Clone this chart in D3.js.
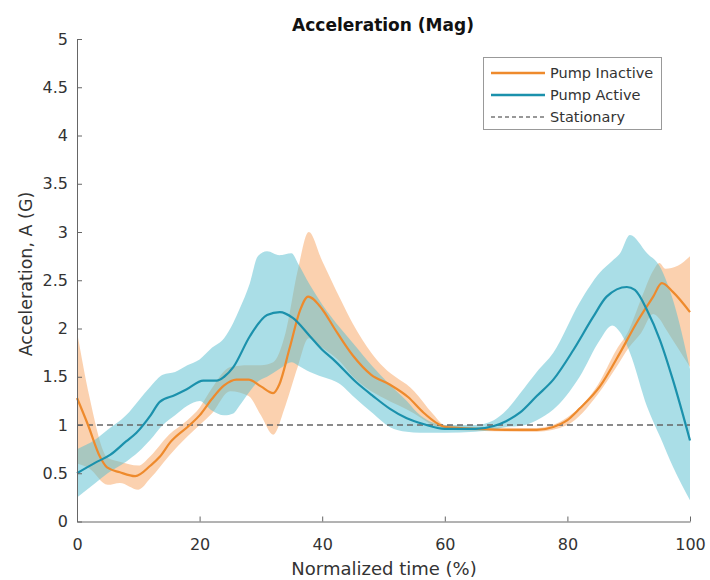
<!DOCTYPE html>
<html>
<head>
<meta charset="utf-8">
<script src="https://cdn.jsdelivr.net/npm/d3@7"></script>
<style>
  html, body { margin: 0; padding: 0; background: #fff; }
  svg { display: block; font-family: "DejaVu Sans", "Liberation Sans", Arial, sans-serif; }
</style>
</head>
<body>
<svg id="chart" width="710" height="580"></svg>
<script>
// ---- Data ----
const title = "Acceleration (Mag)";
const xLabel = "Normalized time (%)";
const yLabel = "Acceleration, A (G)";
const seriesNames = ["Pump Inactive", "Pump Active", "Stationary"];
const xTicks = [0, 20, 40, 60, 80, 100];
const yTicks = [0, 0.5, 1, 1.5, 2, 2.5, 3, 3.5, 4, 4.5, 5];
const stationaryValue = 1;

// Pump Inactive (orange) – mean
const inactiveX    = [0, 1.8, 3.75, 4.9, 7, 9.5, 12, 13.5, 15.2, 18.4, 20, 22, 24, 26, 28, 30, 32, 33, 34.7, 36.4, 37.7, 40, 42, 45, 48, 51, 54, 56.5, 58.7, 60, 62, 65, 70, 75, 77.7, 80, 82, 85.3, 88.6, 91.3, 94, 95.4, 97.2, 100];
const inactiveMean = [1.28, 1.0, 0.67, 0.56, 0.51, 0.47, 0.58, 0.67, 0.82, 1.0, 1.1, 1.27, 1.41, 1.47, 1.47, 1.40, 1.33, 1.42, 1.8, 2.19, 2.33, 2.2, 2.0, 1.72, 1.52, 1.42, 1.29, 1.13, 1.02, 0.98, 0.97, 0.96, 0.95, 0.95, 0.98, 1.05, 1.17, 1.4, 1.75, 2.06, 2.33, 2.47, 2.38, 2.17];
// Pump Inactive – shaded band
const inactiveBandX  = [0, 2, 5, 7, 10, 12, 15, 18, 20, 22, 25, 28, 30, 32, 34, 36, 37.8, 40, 43, 45, 48, 50, 55, 58, 60, 65, 75, 80, 85, 88, 90, 92, 94, 95, 96, 98, 100];
const inactiveUpper  = [1.97, 1.3, 0.66, 0.62, 0.58, 0.68, 0.9, 1.05, 1.18, 1.38, 1.6, 1.62, 1.62, 1.65, 1.95, 2.6, 3.0, 2.7, 2.3, 2.05, 1.75, 1.6, 1.35, 1.12, 1.0, 0.98, 0.97, 1.08, 1.42, 1.78, 1.98, 2.3, 2.6, 2.68, 2.62, 2.65, 2.75];
const inactiveLower  = [0.6, 0.55, 0.38, 0.40, 0.33, 0.45, 0.68, 0.88, 1.0, 1.12, 1.35, 1.3, 1.1, 0.9, 1.2, 1.6, 1.9, 1.8, 1.65, 1.5, 1.35, 1.28, 1.12, 1.0, 0.95, 0.94, 0.93, 1.0, 1.32, 1.6, 1.8, 1.95, 2.15, 2.1, 2.0, 1.8, 1.6];

// Pump Active (blue) – mean
const activeX    = [0, 3, 5.4, 8, 9.7, 12, 13.5, 16, 17.9, 20.6, 22.8, 24, 25.5, 28.2, 31, 33.1, 35.2, 38, 40, 41.8, 45.6, 48.3, 51, 53.8, 56.5, 60, 65, 68, 70, 72.3, 75, 77.7, 81, 84.2, 86.4, 89.7, 91, 93, 95.1, 97.2, 100];
const activeMean = [0.5, 0.61, 0.69, 0.83, 0.92, 1.1, 1.24, 1.31, 1.37, 1.46, 1.46, 1.5, 1.6, 1.92, 2.14, 2.17, 2.11, 1.92, 1.78, 1.68, 1.44, 1.3, 1.17, 1.07, 1.01, 0.96, 0.96, 0.99, 1.04, 1.13, 1.3, 1.47, 1.78, 2.12, 2.33, 2.43, 2.4, 2.19, 1.88, 1.47, 0.84];
// Pump Active – shaded band
const activeBandX = [0, 3, 5, 8, 10, 12, 14, 16, 18, 20, 22, 24, 25.5, 26.5, 28.2, 29.5, 31, 33, 35, 36, 38, 40, 43, 45, 48.3, 51, 53.8, 56, 60, 65, 68, 70, 72.3, 75, 77.7, 82, 85.3, 87.3, 88.6, 90.2, 93, 95.1, 97.2, 100];
const activeUpper = [0.75, 0.85, 0.95, 1.1, 1.25, 1.4, 1.52, 1.55, 1.62, 1.68, 1.8, 1.9, 2.06, 2.2, 2.47, 2.75, 2.8, 2.76, 2.78, 2.68, 2.45, 2.25, 2.0, 1.85, 1.6, 1.42, 1.25, 1.1, 1.0, 1.0, 1.05, 1.15, 1.33, 1.55, 1.75, 2.27, 2.58, 2.7, 2.78, 2.97, 2.78, 2.64, 2.3, 1.58];
const activeLower = [0.25, 0.40, 0.50, 0.62, 0.72, 0.85, 1.0, 1.1, 1.2, 1.25, 1.15, 1.1, 1.12, 1.2, 1.35, 1.45, 1.5, 1.58, 1.65, 1.62, 1.55, 1.5, 1.42, 1.3, 1.12, 0.98, 0.93, 0.92, 0.92, 0.93, 0.95, 0.98, 0.99, 1.05, 1.16, 1.5, 1.88, 2.03, 1.96, 1.75, 1.19, 0.88, 0.57, 0.22];

// ---- Styles ----
const orange = "#EE8A2C";
const orangeFill = "#F8B27A";
const blue = "#1B91AC";
const blueFill = "#55BDD0";
const axisColor = "#666";
const textColor = "#333";

// ---- Layout ----
const svg = d3.select("#chart");
const pLeft = 77, pRight = 690, pTop = 39, pBottom = 521.5;

const x = d3.scaleLinear().domain([0, 100]).range([pLeft, pRight]);
const y = d3.scaleLinear().domain([0, 5]).range([pBottom, pTop]);

function band(xs, up, lo) {
  const pts = xs.map((v, i) => ({ x: v, u: up[i], l: lo[i] }));
  return d3.area().x(d => x(d.x)).y0(d => y(d.l)).y1(d => y(d.u)).curve(d3.curveMonotoneX)(pts);
}
function line(xs, ys) {
  const pts = xs.map((v, i) => [v, ys[i]]);
  return d3.line().x(d => x(d[0])).y(d => y(d[1])).curve(d3.curveMonotoneX)(pts);
}

const g = svg.append("g");
g.append("path").attr("d", band(inactiveBandX, inactiveUpper, inactiveLower))
  .attr("fill", orangeFill).attr("fill-opacity", 0.6);
g.append("path").attr("d", band(activeBandX, activeUpper, activeLower))
  .attr("fill", blueFill).attr("fill-opacity", 0.5);

g.append("line")
  .attr("x1", x(0)).attr("x2", x(100))
  .attr("y1", y(stationaryValue)).attr("y2", y(stationaryValue))
  .attr("stroke", "#666").attr("stroke-width", 1.5).attr("stroke-dasharray", "6,4");

g.append("path").attr("d", line(inactiveX, inactiveMean))
  .attr("fill", "none").attr("stroke", orange).attr("stroke-width", 2.2);
g.append("path").attr("d", line(activeX, activeMean))
  .attr("fill", "none").attr("stroke", blue).attr("stroke-width", 2.2);

const xAxis = svg.append("g").attr("transform", `translate(0,${pBottom})`)
  .call(d3.axisBottom(x).tickValues(xTicks).tickSizeInner(-5).tickSizeOuter(0).tickPadding(17));
const yAxis = svg.append("g").attr("transform", `translate(${pLeft},0)`)
  .call(d3.axisLeft(y).tickValues(yTicks).tickSizeInner(-5).tickSizeOuter(0).tickPadding(9)
    .tickFormat(d3.format("~g")));
[xAxis, yAxis].forEach(a => {
  a.select(".domain").attr("stroke", axisColor).attr("stroke-width", 1);
  a.selectAll(".tick line").attr("stroke", axisColor);
  a.selectAll("text").attr("fill", textColor).style("font-size", "16px")
    .style("font-family", "'DejaVu Sans', sans-serif");
});

svg.append("text").attr("x", 383).attr("y", 31).attr("text-anchor", "middle")
  .style("font-size", "17px").style("font-weight", "bold").attr("fill", "#111").text(title);
svg.append("text").attr("x", 384).attr("y", 575).attr("text-anchor", "middle")
  .style("font-size", "18px").attr("fill", textColor).text(xLabel);
svg.append("text").attr("transform", `translate(32,274) rotate(-90)`)
  .attr("text-anchor", "middle").style("font-size", "17.5px").attr("fill", textColor).text(yLabel);

const lg = svg.append("g");
lg.append("rect").attr("x", 483.5).attr("y", 57.5).attr("width", 178).attr("height", 72)
  .attr("fill", "#fff").attr("stroke", "#999").attr("stroke-width", 1);
const legendItems = [
  { name: seriesNames[0], color: orange, dash: null, w: 2.5 },
  { name: seriesNames[1], color: blue, dash: null, w: 2.5 },
  { name: seriesNames[2], color: "#777", dash: "4,3", w: 1.5 }
];
legendItems.forEach((d, i) => {
  const yy = 73 + i * 22;
  lg.append("line").attr("x1", 491).attr("x2", 545).attr("y1", yy).attr("y2", yy)
    .attr("stroke", d.color).attr("stroke-width", d.w).attr("stroke-dasharray", d.dash);
  lg.append("text").attr("x", 550).attr("y", yy + 5).style("font-size", "14.5px")
    .attr("fill", textColor).text(d.name);
});
</script>
</body>
</html>
